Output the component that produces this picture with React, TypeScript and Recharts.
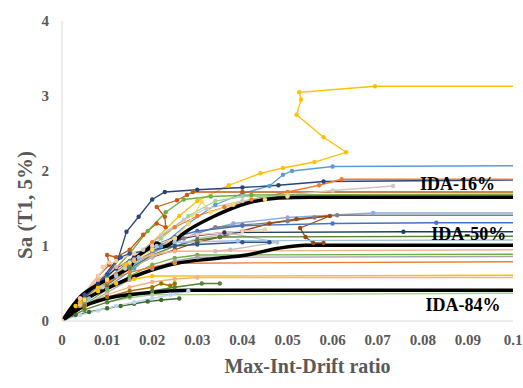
import { LineChart, Line, XAxis, YAxis, ReferenceDot } from "recharts";

type Pt = [number, number];

// x = max inter-storey drift ratio, y = Sa(T1, 5%)
const xTicks = [0, 0.01, 0.02, 0.03, 0.04, 0.05, 0.06, 0.07, 0.08, 0.09, 0.1];
const yTicks = [0, 1, 2, 3, 4];

// individual record IDA curves
const rec01: Pt[] = [[0, 0], [0.003, 0.2], [0.008, 0.45], [0.014, 0.75], [0.02, 1.05], [0.026, 1.4], [0.03, 1.6], [0.037, 1.81], [0.044, 1.97], [0.049, 2.04], [0.056, 2.12], [0.063, 2.25], [0.058, 2.45], [0.052, 2.75], [0.053, 2.95], [0.0526, 3.05], [0.0694, 3.13], [0.1, 3.13]];
const rec02: Pt[] = [[0, 0], [0.004, 0.22], [0.01, 0.45], [0.016, 0.7], [0.022, 1.0], [0.028, 1.3], [0.034, 1.55], [0.04, 1.7], [0.046, 1.8], [0.049, 1.95], [0.051, 2.0], [0.06, 2.06], [0.1, 2.07]];
const rec03: Pt[] = [[0, 0], [0.004, 0.25], [0.008, 0.5], [0.0125, 0.84], [0.0143, 1.19], [0.017, 1.39], [0.02, 1.62], [0.0228, 1.72], [0.03, 1.75], [0.04, 1.78], [0.048, 1.81], [0.058, 1.86], [0.1, 1.88]];
const rec04: Pt[] = [[0, 0], [0.004, 0.3], [0.008, 0.6], [0.0105, 0.75], [0.01, 0.88], [0.012, 0.85], [0.015, 0.95], [0.018, 1.15], [0.021, 1.3], [0.023, 1.25], [0.0228, 1.39], [0.021, 1.52], [0.0255, 1.61], [0.0277, 1.68], [0.029, 1.72], [0.04, 1.72], [0.1, 1.72]];
const rec05: Pt[] = [[0, 0], [0.004, 0.2], [0.008, 0.4], [0.012, 0.62], [0.016, 0.85], [0.02, 1.05], [0.025, 1.25], [0.03, 1.4], [0.036, 1.52], [0.042, 1.62], [0.05, 1.72], [0.057, 1.81], [0.062, 1.89], [0.1, 1.89]];
const rec06: Pt[] = [[0, 0], [0.004, 0.22], [0.009, 0.45], [0.014, 0.7], [0.018, 0.95], [0.022, 1.15], [0.027, 1.35], [0.032, 1.5], [0.04, 1.6], [0.05, 1.68], [0.06, 1.74], [0.0734, 1.8]];
const rec07: Pt[] = [[0, 0], [0.005, 0.3], [0.01, 0.58], [0.015, 0.9], [0.019, 1.2], [0.023, 1.45], [0.027, 1.62], [0.033, 1.66], [0.042, 1.68], [0.1, 1.69]];
const rec08: Pt[] = [[0, 0], [0.005, 0.25], [0.01, 0.5], [0.016, 0.8], [0.022, 1.1], [0.028, 1.4], [0.034, 1.6], [0.04, 1.66], [0.1, 1.67]];
const rec09: Pt[] = [[0, 0], [0.005, 0.25], [0.01, 0.5], [0.015, 0.72], [0.02, 0.9], [0.025, 1.05], [0.03, 1.18], [0.038, 1.3], [0.05, 1.38], [0.069, 1.44], [0.1, 1.44]];
const rec10: Pt[] = [[0, 0], [0.005, 0.3], [0.01, 0.55], [0.015, 0.75], [0.02, 0.92], [0.027, 1.1], [0.034, 1.25], [0.04, 1.28], [0.05, 1.33], [0.056, 1.38], [0.061, 1.41], [0.1, 1.41]];
const rec11: Pt[] = [[0, 0], [0.005, 0.25], [0.01, 0.48], [0.015, 0.7], [0.02, 0.85], [0.025, 0.95], [0.03, 1.05], [0.035, 1.12], [0.04, 1.2], [0.046, 1.3], [0.052, 1.36], [0.0594, 1.4], [0.0528, 1.24], [0.054, 1.12], [0.0557, 1.04], [0.058, 1.04]];
const rec12: Pt[] = [[0, 0], [0.005, 0.3], [0.01, 0.55], [0.015, 0.8], [0.02, 1.0], [0.025, 1.12], [0.03, 1.2], [0.04, 1.27], [0.06, 1.3], [0.083, 1.31], [0.1, 1.31]];
const rec13: Pt[] = [[0, 0], [0.005, 0.25], [0.01, 0.5], [0.015, 0.7], [0.02, 0.85], [0.025, 1.0], [0.03, 1.1], [0.0373, 1.17], [0.0477, 1.05], [0.0373, 0.95], [0.034, 0.93]];
const rec14: Pt[] = [[0, 0], [0.004, 0.28], [0.008, 0.5], [0.012, 0.7], [0.016, 0.85], [0.02, 0.98], [0.025, 1.08], [0.03, 1.14], [0.036, 1.18], [0.0757, 1.19], [0.1, 1.19]];
const rec15: Pt[] = [[0, 0], [0.005, 0.27], [0.01, 0.5], [0.015, 0.7], [0.02, 0.88], [0.025, 1.0], [0.03, 1.08], [0.035, 1.12], [0.1, 1.13]];
const rec16: Pt[] = [[0, 0], [0.006, 0.3], [0.012, 0.6], [0.017, 0.85], [0.021, 1.0], [0.025, 1.05], [0.039, 1.07], [0.1, 1.08]];
const rec17: Pt[] = [[0, 0], [0.004, 0.3], [0.008, 0.55], [0.012, 0.72], [0.016, 0.82], [0.02, 0.88], [0.025, 0.93], [0.1, 0.95]];
const rec18: Pt[] = [[0, 0], [0.005, 0.22], [0.01, 0.42], [0.015, 0.6], [0.02, 0.75], [0.025, 0.84], [0.03, 0.88], [0.1, 0.89]];
const rec19: Pt[] = [[0, 0], [0.005, 0.2], [0.01, 0.38], [0.015, 0.55], [0.02, 0.7], [0.025, 0.8], [0.03, 0.85], [0.1, 0.86]];
const rec20: Pt[] = [[0, 0], [0.005, 0.3], [0.01, 0.52], [0.015, 0.65], [0.02, 0.72], [0.025, 0.77], [0.1, 0.79]];
const rec21: Pt[] = [[0, 0], [0.004, 0.25], [0.008, 0.4], [0.012, 0.5], [0.016, 0.56], [0.02, 0.6], [0.1, 0.61]];
const rec22: Pt[] = [[0, 0], [0.005, 0.2], [0.01, 0.35], [0.015, 0.45], [0.02, 0.52], [0.025, 0.56], [0.03, 0.58], [0.1, 0.58]];
const rec23: Pt[] = [[0, 0], [0.005, 0.15], [0.01, 0.25], [0.015, 0.31], [0.02, 0.35], [0.1, 0.37]];
const rec24: Pt[] = [[0, 0], [0.003, 0.08], [0.006, 0.12], [0.01, 0.17], [0.013, 0.2], [0.016, 0.23], [0.019, 0.26], [0.022, 0.28], [0.026, 0.3]];
const rec25: Pt[] = [[0, 0], [0.005, 0.15], [0.01, 0.25], [0.015, 0.33], [0.02, 0.4], [0.025, 0.45], [0.031, 0.5], [0.035, 0.5]];
const rec26: Pt[] = [[0, 0], [0.005, 0.2], [0.01, 0.32], [0.015, 0.4], [0.02, 0.45], [0.022, 0.5], [0.024, 0.47], [0.025, 0.5]];
const rec27: Pt[] = [[0, 0], [0.004, 0.3], [0.008, 0.6], [0.0105, 0.78], [0.009, 0.72], [0.012, 0.8], [0.016, 0.9], [0.02, 1.0], [0.025, 1.1], [0.03, 1.15], [0.04, 1.2], [0.045, 1.22]];
const rec28: Pt[] = [[0, 0], [0.004, 0.08], [0.008, 0.14], [0.012, 0.2], [0.016, 0.25], [0.02, 0.3], [0.024, 0.35], [0.028, 0.4]];
const rec29: Pt[] = [[0, 0], [0.005, 0.35], [0.01, 0.62], [0.013, 0.85], [0.015, 0.9], [0.02, 0.95], [0.025, 1.0], [0.03, 1.02], [0.04, 1.05], [0.046, 1.05]];
const rec30: Pt[] = [[0, 0], [0.005, 0.28], [0.01, 0.55], [0.015, 0.78], [0.02, 0.95], [0.025, 1.1], [0.028, 1.3], [0.031, 1.59], [0.033, 1.45], [0.038, 1.55], [0.045, 1.62], [0.05, 1.66]];

const records = [rec01, rec02, rec03, rec04, rec05, rec06, rec07, rec08, rec09, rec10, rec11, rec12, rec13, rec14, rec15, rec16, rec17, rec18, rec19, rec20, rec21, rec22, rec23, rec24, rec25, rec26, rec27, rec28, rec29, rec30];

const recordColors = [
  "#FFC000", "#5B9BD5", "#264478", "#C55A11", "#ED7D31", "#C9C9C9", "#70AD47", "#A9D18E", "#8FAADC", "#7F7F7F",
  "#9E480E", "#4472C4", "#BFBFBF", "#203864", "#548235", "#9DC3E6", "#F4B183", "#70AD47", "#A5A5A5", "#ED7D31",
  "#FFC000", "#F4B183", "#A9D18E", "#43682B", "#548235", "#997300", "#F8CBAD", "#BDD7EE", "#2F5597", "#FFD966",
];

// fractile curves
const ida16: Pt[] = [[0, 0], [0.004, 0.32], [0.0084, 0.5], [0.0129, 0.64], [0.015, 0.72], [0.0166, 0.85], [0.0188, 0.95], [0.021, 1.04], [0.0224, 0.99], [0.0246, 1.05], [0.027, 1.17], [0.0335, 1.39], [0.041, 1.57], [0.048, 1.64], [0.055, 1.65], [0.1, 1.65]];
const ida50: Pt[] = [[0, 0], [0.004, 0.24], [0.0106, 0.45], [0.018, 0.64], [0.0255, 0.77], [0.0335, 0.83], [0.041, 0.88], [0.048, 0.97], [0.054, 1.01], [0.1, 1.01]];
const ida84: Pt[] = [[0, 0], [0.004, 0.17], [0.0106, 0.31], [0.018, 0.37], [0.028, 0.41], [0.1, 0.41]];

const fractiles = [ida16, ida50, ida84];
const fractileNames = ["IDA-16%", "IDA-50%", "IDA-84%"];
const fractileLabelX = [0.0877, 0.0902, 0.0889];
const fractileLabelY = [1.833, 1.167, 0.213];

const FONT = "'Liberation Serif', 'Times New Roman', serif";
const GRAY = "#595959";

const toRows = (pts: Pt[]) => pts.map(([x, y]) => ({ x, y }));

const dotFor = (color: string) => (props: any) => {
  const { cx, cy, payload, index } = props;
  if (cx == null || cy == null || payload.x >= 0.1) return <g key={`d-${index}`} />;
  return <circle key={`d-${index}`} cx={cx} cy={cy} r={2.2} fill={color} stroke="none" />;
};

export default function App() {
  return (
    <div style={{ position: "absolute", left: 0, top: 0, width: 523, height: 388, background: "#fff" }}>
      <LineChart width={523} height={388} margin={{ top: 21, right: 10, left: 0, bottom: 0 }}>
        <XAxis
          type="number"
          dataKey="x"
          domain={[0, 0.1]}
          ticks={xTicks}
          height={67}
          stroke="#d9d9d9"
          tickLine={false}
          tickMargin={7}
          tickFormatter={(v: number) => String(v)}
          tick={{ fill: GRAY, fontSize: 15, fontWeight: 700, fontFamily: FONT }}
          allowDataOverflow
          label={{
            value: "Max-Int-Drift ratio",
            position: "insideBottom",
            offset: 15,
            dx: 20,
            fill: GRAY,
            fontSize: 20,
            fontWeight: 700,
            fontFamily: FONT,
          }}
        />
        <YAxis
          type="number"
          dataKey="y"
          domain={[0, 4]}
          ticks={yTicks}
          width={62}
          stroke="#d9d9d9"
          tickLine={false}
          tickMargin={7}
          tick={{ fill: GRAY, fontSize: 15, fontWeight: 700, fontFamily: FONT }}
          allowDataOverflow
          label={{
            value: "Sa (T1, 5%)",
            angle: -90,
            position: "insideLeft",
            offset: 25,
            dy: 34,
            fill: GRAY,
            fontSize: 21,
            fontWeight: 700,
            fontFamily: FONT,
            style: { textAnchor: "middle" },
          }}
        />
        {records.map((rec, i) => (
          <Line
            key={`rec-${i}`}
            name={`rec-${i}`}
            data={toRows(rec)}
            dataKey="y"
            type="linear"
            stroke={recordColors[i]}
            strokeWidth={1.3}
            dot={dotFor(recordColors[i])}
            activeDot={false}
            isAnimationActive={false}
          />
        ))}
        {fractiles.map((f, i) => (
          <Line
            key={`ida-${i}`}
            name={fractileNames[i]}
            data={toRows(f)}
            dataKey="y"
            type="monotoneX"
            stroke="#000"
            strokeWidth={3.5}
            dot={false}
            activeDot={false}
            isAnimationActive={false}
          />
        ))}
        {fractileNames.map((n, i) => (
          <ReferenceDot
            key={`lbl-${i}`}
            x={fractileLabelX[i]}
            y={fractileLabelY[i]}
            r={1}
            fill="none"
            stroke="none"
            ifOverflow="visible"
            label={{
              value: n,
              position: "center",
              fill: "#000",
              fontSize: 18,
              fontWeight: 700,
              fontFamily: FONT,
            }}
          />
        ))}
      </LineChart>
    </div>
  );
}
